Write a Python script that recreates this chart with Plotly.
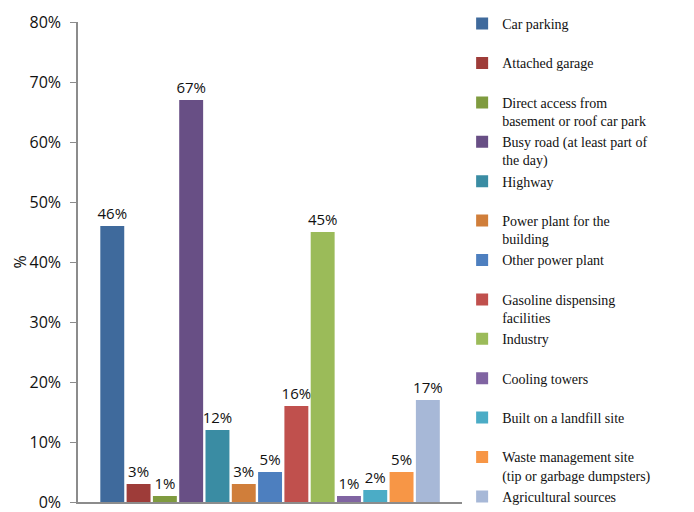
import plotly.graph_objects as go

# sources and share of buildings (%)
sources = [
    "Car parking",
    "Attached garage",
    "Direct access from<br>basement or roof car park",
    "Busy road (at least part of<br>the day)",
    "Highway",
    "Power plant for the<br>building",
    "Other power plant",
    "Gasoline dispensing<br>facilities",
    "Industry",
    "Cooling towers",
    "Built on a landfill site",
    "Waste management site<br>(tip or garbage dumpsters)",
    "Agricultural sources",
]
shares = [46, 3, 1, 67, 12, 3, 5, 16, 45, 1, 2, 5, 17]
colors = [
    "#3F6A9C", "#9E3C39", "#7F9B3F", "#684F85", "#3A8CA3", "#D07E3A", "#4D7FBF",
    "#C0504D", "#9BBB59", "#8064A2", "#4BACC6", "#F79646", "#A7B8D7",
]
category = ["Sources"]

fig = go.Figure()

for name, val, col in zip(sources, shares, colors):
    # pad single-line names so every legend entry has the same height
    label = name if "<br>" in name else name + "<br> "
    fig.add_trace(go.Bar(
        x=category, y=[val / 100], name=label,
        marker=dict(color=col, line=dict(width=0)),
        text=[f"{val}%"], textposition="outside", cliponaxis=False,
        constraintext="none",
        textfont=dict(family="Open Sans", size=15, color="#111111"),
    ))

# page body adds an 8px margin, so the figure is 8px smaller than the window
fig.update_layout(
    width=686, height=504,
    margin=dict(l=70, r=214, t=14, b=10),
    barmode="group", bargap=0.11, bargroupgap=0.09,
    plot_bgcolor="white", paper_bgcolor="white",
    font=dict(family="Open Sans", size=16, color="#111111"),
    showlegend=True,
    legend=dict(
        xref="container", yref="container", x=0.662, y=1.0,
        xanchor="left", yanchor="top", valign="top", tracegroupgap=0,
        maxheight=700,
        font=dict(family="Liberation Serif", size=14, color="#111111"),
        bgcolor="rgba(0,0,0,0)",
    ),
)

fig.update_xaxes(range=[-0.5, 0.5], showticklabels=False, ticks="", showline=True,
                 linecolor="#8c8c8c", linewidth=1.5, showgrid=False, automargin=False)
fig.update_yaxes(range=[0, 0.8], dtick=0.1, tickformat=".0%", showgrid=False,
                 showline=True, linecolor="#8c8c8c", linewidth=1.5,
                 ticks="outside", ticklen=6, tickcolor="#8c8c8c", zeroline=False,
                 ticklabelstandoff=6, ticklabeloverflow="allow", automargin=False)

fig.add_annotation(text="%", textangle=-90, xref="paper", yref="paper",
                   x=-0.152, y=0.5, xanchor="center", yanchor="middle",
                   showarrow=False,
                   font=dict(family="Open Sans", size=16, color="#111111"))

fig.write_html("out.html")
